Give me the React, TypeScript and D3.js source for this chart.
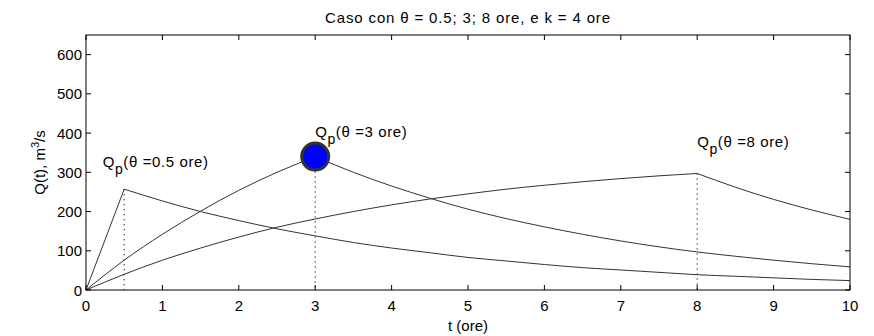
import React from "react";
import * as d3 from "d3";

// Time axis samples (hours)
const tRise05 = [0, 0.5];
const qRise05 = [0, 257];
const tFall05 = [0.5, 1, 1.5, 2, 2.5, 3, 3.5, 4, 4.5, 5, 5.5, 6, 6.5, 7, 7.5, 8, 8.5, 9, 9.5, 10];
const qFall05 = [257, 227, 200, 177, 156, 138, 121, 107, 95, 83, 74, 65, 57, 51, 45, 39, 35, 31, 27, 24];

const tRise3 = [0, 0.5, 1, 1.5, 2, 2.5, 3];
const qRise3 = [0, 76, 142, 201, 254, 300, 340];
const tFall3 = [3, 3.5, 4, 4.5, 5, 5.5, 6, 6.5, 7, 7.5, 8, 8.5, 9, 9.5, 10];
const qFall3 = [340, 300, 265, 234, 206, 182, 161, 142, 125, 110, 97, 86, 76, 67, 59];

const tRise8 = [0, 0.5, 1, 1.5, 2, 2.5, 3, 3.5, 4, 4.5, 5, 5.5, 6, 6.5, 7, 7.5, 8];
const qRise8 = [0, 40, 76, 107, 135, 160, 181, 200, 217, 232, 245, 257, 267, 276, 284, 291, 297];
const tFall8 = [8, 8.5, 9, 9.5, 10];
const qFall8 = [297, 262, 231, 204, 180];

// Peak markers
const peakT = [0.5, 3, 8];
const peakQ = [257, 340, 297];
const peakTheta = ["0.5", "3", "8"];

const xTicks = [0, 1, 2, 3, 4, 5, 6, 7, 8, 9, 10];
const yTicks = [0, 100, 200, 300, 400, 500, 600];

const W = 874;
const H = 336;
const M = { left: 86, right: 24, top: 35, bottom: 46 };
const FONT = "'Liberation Sans', Arial, sans-serif";

export default function App() {
  const x = d3.scaleLinear().domain([0, 10]).range([M.left, W - M.right]);
  const y = d3.scaleLinear().domain([0, 650]).range([H - M.bottom, M.top]);

  const line = d3
    .line<[number, number]>()
    .x((d) => x(d[0]))
    .y((d) => y(d[1]))
    .curve(d3.curveMonotoneX);

  const segs: [number[], number[]][] = [
    [tRise05, qRise05],
    [tFall05, qFall05],
    [tRise3, qRise3],
    [tFall3, qFall3],
    [tRise8, qRise8],
    [tFall8, qFall8],
  ];

  const x0 = x(0), x1 = x(10), y0 = y(0), y1 = y(650);
  const tl = 5;

  const labelPos = [
    { dx: -21.5, dy: -22.5 },
    { dx: 0, dy: -20 },
    { dx: 0, dy: -26.5 },
  ];

  return (
    <svg width={W} height={H} style={{ position: "absolute", left: 0, top: 0, background: "#fff" }} fontFamily={FONT}>
      <rect x={0} y={0} width={W} height={H} fill="#fff" />
      {/* dotted peak markers */}
      {peakT.map((t, i) => (
        <line key={"d" + i} x1={x(t)} x2={x(t)} y1={y(peakQ[i])} y2={y0} stroke="#000" strokeWidth={1.2} strokeDasharray="1,4" />
      ))}
      {/* hydrograph curves */}
      {segs.map(([ts, qs], i) => (
        <path key={"s" + i} d={line(ts.map((t, j) => [t, qs[j]]) as [number, number][]) || ""} fill="none" stroke="#333" strokeWidth={1} />
      ))}
      {/* axes box */}
      <rect x={x0} y={y1} width={x1 - x0} height={y0 - y1} fill="none" stroke="#000" strokeWidth={1} />
      {xTicks.map((t) => (
        <g key={"xt" + t}>
          <line x1={x(t)} x2={x(t)} y1={y0} y2={y0 - tl} stroke="#000" />
          <line x1={x(t)} x2={x(t)} y1={y1} y2={y1 + tl} stroke="#000" />
          <text x={x(t)} y={y0 + 21} textAnchor="middle" fontSize={15}>{t}</text>
        </g>
      ))}
      {yTicks.map((v) => (
        <g key={"yt" + v}>
          <line x1={x0} x2={x0 + tl} y1={y(v)} y2={y(v)} stroke="#000" />
          <line x1={x1} x2={x1 - tl} y1={y(v)} y2={y(v)} stroke="#000" />
          <text x={x0 - 4} y={y(v) + 5.5} textAnchor="end" fontSize={15}>{v}</text>
        </g>
      ))}
      {/* peak marker on the 3-hour hydrograph */}
      <circle cx={x(3)} cy={y(340)} r={13.5} fill="#0000ff" stroke="#333" strokeWidth={3} />
      {/* peak labels */}
      {peakT.map((t, i) => (
        <text key={"l" + i} x={x(t) + labelPos[i].dx} y={y(peakQ[i]) + labelPos[i].dy} fontSize={15} letterSpacing={0.6}>
          Q<tspan dy={7} fontSize={14}>p</tspan>
          <tspan dy={-7}>(θ ={peakTheta[i]} ore)</tspan>
        </text>
      ))}
      {/* titles */}
      <text x={(x0 + x1) / 2} y={22.5} textAnchor="middle" fontSize={15} letterSpacing={0.85}>
        Caso con θ = 0.5; 3; 8 ore, e k = 4 ore
      </text>
      <text x={(x0 + x1) / 2} y={331} textAnchor="middle" fontSize={15}>t (ore)</text>
      <text transform={`translate(45,${(y0 + y1) / 2}) rotate(-90)`} textAnchor="middle" fontSize={15}>
        Q(t), m<tspan dy={-6} fontSize={11}>3</tspan>
        <tspan dy={6}>/s</tspan>
      </text>
    </svg>
  );
}
